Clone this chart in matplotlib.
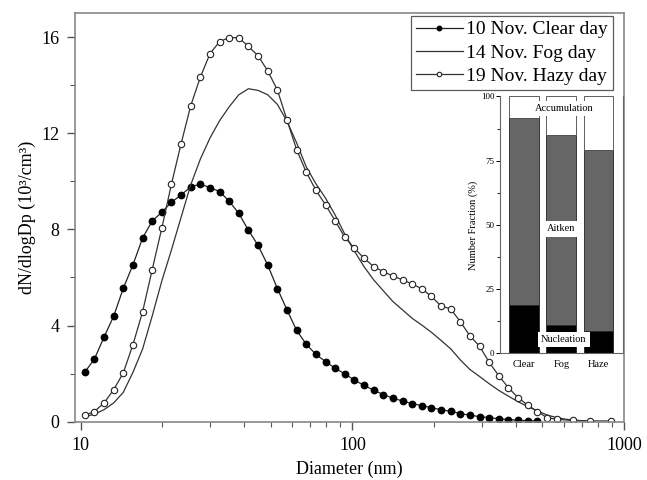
import matplotlib
matplotlib.use('Agg')
import matplotlib.pyplot as plt
from matplotlib.ticker import FixedLocator, MultipleLocator, NullFormatter, LogLocator

plt.rcParams['font.family'] = ['Liberation Serif', 'DejaVu Serif']

# size bins (nm)
diam = [10.35, 11.23, 12.19, 13.23, 14.35, 15.57, 16.90, 18.34, 19.89, 21.59,
        23.42, 25.41, 27.57, 29.92, 32.46, 35.22, 38.21, 41.46, 44.99, 48.81,
        52.97, 57.46, 62.34, 67.66, 73.41, 79.65, 86.42, 93.78, 101.7, 110.4,
        119.8, 129.9, 141.0, 153.0, 166.0, 180.1, 195.4, 212.1, 230.1, 249.7,
        270.9, 293.9, 318.9, 346.0, 375.5, 407.4, 442.1, 479.6, 520.4, 564.7,
        612.7, 664.9, 721.4]

clear = [2.06, 2.60, 3.52, 4.39, 5.55, 6.52, 7.64, 8.35, 8.71, 9.13,
         9.43, 9.77, 9.88, 9.74, 9.57, 9.17, 8.66, 7.96, 7.33, 6.51,
         5.54, 4.65, 3.80, 3.22, 2.80, 2.50, 2.22, 1.99, 1.73, 1.51,
         1.31, 1.13, 0.98, 0.86, 0.75, 0.67, 0.58, 0.50, 0.43, 0.34,
         0.27, 0.21, 0.17, 0.12, 0.09, 0.06, 0.04, 0.03]

fog = [0.21, 0.31, 0.50, 0.78, 1.22, 2.05, 3.02, 4.40, 5.85, 7.15,
       8.50, 9.85, 10.92, 11.80, 12.52, 13.10, 13.60, 13.85, 13.78, 13.60,
       13.20, 12.50, 11.60, 10.60, 9.90, 9.30, 8.60, 7.80, 7.10, 6.45,
       5.90, 5.45, 5.00, 4.65, 4.30, 4.02, 3.72, 3.38, 3.03, 2.57,
       2.17, 1.88, 1.58, 1.30, 1.06, 0.83, 0.63, 0.45, 0.28, 0.17,
       0.10, 0.06, 0.03]

hazy_tail_diam = [649.0, 750.0, 896.0]
hazy = [0.27, 0.42, 0.78, 1.33, 2.03, 3.20, 4.57, 6.33, 8.05, 9.89,
        11.56, 13.14, 14.33, 15.31, 15.81, 15.98, 15.97, 15.61, 15.22, 14.59,
        13.80, 12.55, 11.32, 10.38, 9.63, 9.02, 8.36, 7.67, 7.22, 6.80,
        6.45, 6.24, 6.06, 5.90, 5.73, 5.53, 5.21, 4.81, 4.69, 4.16,
        3.57, 3.14, 2.47, 1.91, 1.41, 1.00, 0.69, 0.42, 0.17, 0.10,
        0.05, 0.03, 0.03]

# inset: number fraction (%) by mode
days = ['Clear', 'Fog', 'Haze']
nucleation = [18.8, 11.0, 8.5]
aitken = [72.7, 74.0, 70.5]
accumulation = [8.5, 15.0, 21.0]

fig = plt.figure(figsize=(6.47, 4.8), dpi=100)
ax = fig.add_axes([0.1159, 0.1215, 0.8486, 0.8514])

ax.plot(diam[:len(clear)], clear, '-o', color='#222222', lw=0.9,
        ms=4.6, mfc='black', mec='black', label='10 Nov. Clear day')
ax.plot(diam[:len(fog)], fog, '-', color='#333333', lw=0.9,
        label='14 Nov. Fog day')
ax.plot(diam[:50] + hazy_tail_diam, hazy, '-o', color='#333333', lw=0.9,
        ms=4.6, mfc='white', mec='#222222', mew=0.8, label='19 Nov. Hazy day')

ax.set_xscale('log')
ax.set_xlim(9.53, 1000)
ax.set_ylim(0, 17)
ax.xaxis.set_major_locator(FixedLocator([10, 100, 1000]))
ax.set_xticklabels(['10', '100', '1000'])
ax.xaxis.set_minor_locator(LogLocator(base=10, subs=range(2, 10)))
ax.xaxis.set_minor_formatter(NullFormatter())
ax.yaxis.set_major_locator(FixedLocator([0, 4, 8, 12, 16]))
ax.yaxis.set_minor_locator(MultipleLocator(2))
ax.tick_params(which='major', direction='out', length=6, width=1,
               color='#555555', labelsize=13, pad=5)
ax.tick_params(which='minor', direction='out', length=3.5, width=0.8,
               color='#555555')
for s in ax.spines.values():
    s.set_color('#888888')
    s.set_linewidth(1.2)

ax.set_xlabel('Diameter (nm)', fontsize=13, labelpad=5)
ax.set_ylabel('dN/dlogDp (10³/cm³)', fontsize=13, labelpad=4)

leg = ax.legend(loc='upper right', bbox_to_anchor=(0.980, 0.993),
                borderaxespad=0, fontsize=14, frameon=True, fancybox=False,
                handlelength=2.4, handletextpad=0.2, labelspacing=0.3,
                borderpad=0.25, markerscale=0.7)
leg.get_frame().set_edgecolor('#333333')
leg.get_frame().set_linewidth(0.9)

# inset bar chart
ins = fig.add_axes([0.7728, 0.2640, 0.1901, 0.5350])
x = range(len(days))
bottom2 = [n + a for n, a in zip(nucleation, aitken)]
ins.bar(x, nucleation, width=0.8, color='black', edgecolor='#222222', lw=0.6)
ins.bar(x, aitken, width=0.8, bottom=nucleation, color='#666666',
        edgecolor='#222222', lw=0.6)
ins.bar(x, accumulation, width=0.8, bottom=bottom2, color='white',
        edgecolor='#444444', lw=0.6)
ins.set_xlim(-0.65, 2.66)
ins.set_ylim(0, 100)
ins.set_xticks(list(x))
ins.set_xticklabels(days, fontsize=7.5)
ins.tick_params(axis='x', length=0, pad=5)
ins.yaxis.set_major_locator(FixedLocator([0, 25, 50, 75, 100]))
ins.yaxis.set_minor_locator(MultipleLocator(12.5))
ins.tick_params(axis='y', which='major', direction='out', length=3,
                width=0.7, labelsize=6.5, pad=1)
ins.tick_params(axis='y', which='minor', direction='out', length=2, width=0.6)
ins.set_ylabel('Number Fraction (%)', fontsize=7.5, labelpad=2)
ins.spines['top'].set_visible(False)
for s in ['left', 'bottom', 'right']:
    ins.spines[s].set_color('#666666')
    ins.spines[s].set_linewidth(0.8)

box = dict(facecolor='white', edgecolor='none', pad=2.2)
ins.text(1.07, 95.2, 'Accumulation', ha='center', va='center', fontsize=7.5,
         bbox=box)
ins.text(1.0, 48.4, 'Aitken', ha='center', va='center', fontsize=7.5,
         bbox=box)
ins.text(1.07, 5.2, 'Nucleation', ha='center', va='center', fontsize=7.5,
         bbox=box)

fig.savefig('out.png', dpi=100)
